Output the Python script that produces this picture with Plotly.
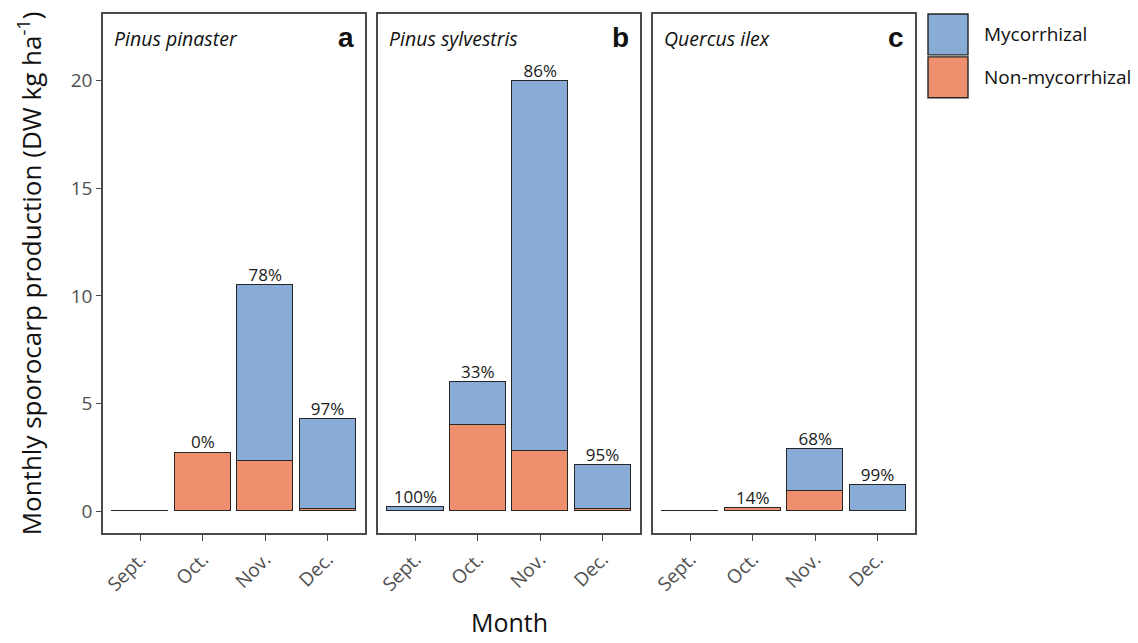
import plotly.graph_objects as go

months = ["Sept.", "Oct.", "Nov.", "Dec."]
species = ["Pinus pinaster", "Pinus sylvestris", "Quercus ilex"]
panel_letters = ["a", "b", "c"]

nonmyc_a = [0.0, 2.72, 2.31, 0.08]
myc_a = [0.0, 0.0, 8.18, 4.18]
pct_a = ["", "0%", "78%", "97%"]

nonmyc_b = [0.0, 3.98, 2.79, 0.08]
myc_b = [0.20, 2.00, 17.20, 2.04]
pct_b = ["100%", "33%", "86%", "95%"]

nonmyc_c = [0.0, 0.13, 0.94, 0.01]
myc_c = [0.0, 0.02, 1.94, 1.18]
pct_c = ["", "14%", "68%", "99%"]

y_ticks = [0, 5, 10, 15, 20]

BLUE = "#88ACD5"
ORANGE = "#EE8F6D"
EDGE = "#262626"
FRAME = "#4a4a4a"
FONT = "Open Sans"

panels = [(nonmyc_a, myc_a, pct_a), (nonmyc_b, myc_b, pct_b), (nonmyc_c, myc_c, pct_c)]

W, H = 1138, 643
ML, MR, MT, MB = 103, 223, 12, 110
PW = W - ML - MR
PH = H - MT - MB
gap = 13
pw = (PW - 2 * gap) / 3
domains = [[(i * (pw + gap)) / PW, (i * (pw + gap) + pw) / PW] for i in range(3)]

fig = go.Figure()
MIN_VIS = 0.015  # an all-zero month is drawn as a thin line, as in the reference

for i, (nm, my, pct) in enumerate(panels):
    xa = "x" if i == 0 else f"x{i+1}"
    ya = "y" if i == 0 else f"y{i+1}"
    nm_draw = [MIN_VIS if (a + b) == 0 else a for a, b in zip(nm, my)]
    fig.add_trace(go.Bar(x=months, y=nm_draw, marker=dict(color=ORANGE, line=dict(color=EDGE, width=1.5)),
                         width=0.9, xaxis=xa, yaxis=ya, showlegend=False, hoverinfo="skip"))
    fig.add_trace(go.Bar(x=months, y=my, marker=dict(color=BLUE, line=dict(color=EDGE, width=1.5)),
                         width=0.9, xaxis=xa, yaxis=ya, showlegend=False, hoverinfo="skip"))
    totals = [a + b for a, b in zip(nm, my)]
    fig.add_trace(go.Scatter(x=months, y=totals, mode="text", text=pct, textposition="top center",
                             textfont=dict(family=FONT, size=17, color="#1a1a1a"),
                             xaxis=xa, yaxis=ya, showlegend=False, hoverinfo="skip", cliponaxis=False))

layout = dict(
    width=W, height=H, barmode="stack", bargap=0,
    margin=dict(l=ML, r=MR, t=MT, b=MB),
    plot_bgcolor="white", paper_bgcolor="white",
    font=dict(family=FONT),
)
for i in range(3):
    xk = "xaxis" if i == 0 else f"xaxis{i+1}"
    yk = "yaxis" if i == 0 else f"yaxis{i+1}"
    ya = "y" if i == 0 else f"y{i+1}"
    xa = "x" if i == 0 else f"x{i+1}"
    layout[xk] = dict(domain=domains[i], anchor=ya, range=[-0.6, 3.6], type="category",
                      categoryorder="array", categoryarray=months,
                      showline=True, mirror=True, linecolor=FRAME, linewidth=1.6,
                      ticks="outside", ticklen=6, tickcolor=FRAME, tickwidth=1.4,
                      tickangle=-45, tickfont=dict(family=FONT, size=19, color="#505050"),
                      showgrid=False, zeroline=False)
    layout[yk] = dict(domain=[0, 1], anchor=xa, range=[-1.02, 23.1],
                      showline=True, mirror=True, linecolor=FRAME, linewidth=1.6,
                      showgrid=False, zeroline=False)
    if i == 0:
        layout[yk].update(tickvals=y_ticks, ticks="outside", ticklen=5, tickcolor=FRAME, tickwidth=1.4,
                          tickfont=dict(family=FONT, size=19, color="#505050"),
                          title=dict(text="Monthly sporocarp production (DW kg ha<sup>-1</sup>)",
                                     font=dict(family=FONT, size=26, color="#111111"), standoff=22))
    else:
        layout[yk].update(showticklabels=False, ticks="", matches="y")

fig.update_layout(**layout)

ann = []
for i in range(3):
    xd = "x domain" if i == 0 else f"x{i+1} domain"
    yd = "y domain" if i == 0 else f"y{i+1} domain"
    ann.append(dict(xref=xd, yref=yd, x=0.035, y=(PH - 25) / PH, xanchor="left", yanchor="middle",
                    text=f"<i>{species[i]}</i>", showarrow=False,
                    font=dict(family=FONT, size=19.5, color="#111111")))
    ann.append(dict(xref=xd, yref=yd, x=0.965, y=(PH - 24) / PH, xanchor="right", yanchor="middle",
                    text=f"<b>{panel_letters[i]}</b>", showarrow=False,
                    font=dict(family="Liberation Sans", size=28, color="#111111")))
ann.append(dict(xref="paper", yref="paper", x=(509 - ML) / PW, y=-(641 - 533) / PH, xanchor="center", yanchor="bottom",
                text="Month", showarrow=False, font=dict(family=FONT, size=25, color="#111111")))

# legend keys (drawn in paper space)
legend_items = [("Mycorrhizal", BLUE), ("Non-mycorrhizal", ORANGE)]
shapes = []
kx0, kx1 = 928, 968
for j, (lab, col) in enumerate(legend_items):
    top = 12 + j * 43
    bot = top + 41
    shapes.append(dict(type="rect", xref="paper", yref="paper",
                       x0=(kx0 - ML) / PW, x1=(kx1 - ML) / PW,
                       y0=(H - MB - bot) / PH, y1=(H - MB - top) / PH,
                       fillcolor=col, line=dict(color=EDGE, width=1.4)))
    ann.append(dict(xref="paper", yref="paper", x=(982 - ML) / PW, y=(H - MB - (top + 20.5)) / PH,
                    xanchor="left", yanchor="middle", text=lab, showarrow=False,
                    font=dict(family=FONT, size=19, color="#111111")))

fig.update_layout(annotations=ann, shapes=shapes)
fig.write_html("out.html")
